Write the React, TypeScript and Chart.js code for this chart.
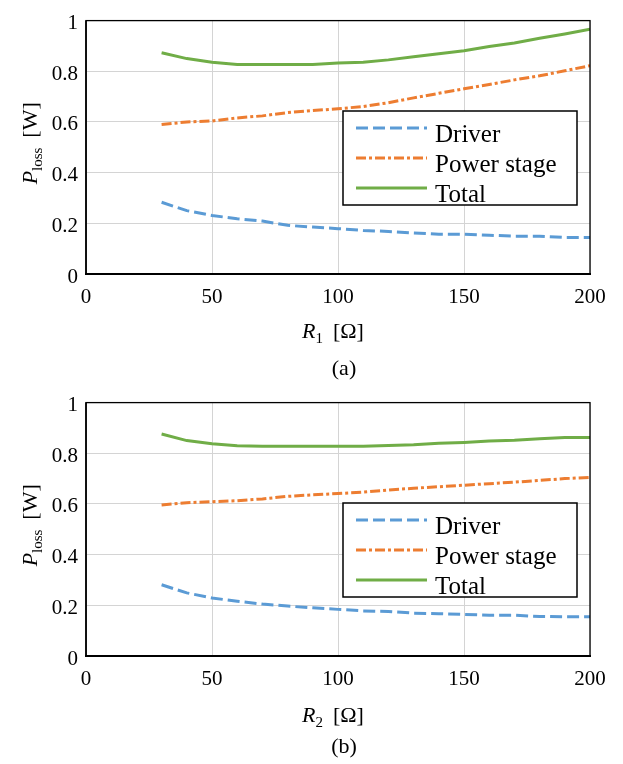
import React, { useEffect, useRef } from "react";
import { Chart, registerables } from "chart.js";
Chart.register(...registerables);

// Resistance values [Ω]
const R = [30, 40, 50, 60, 70, 80, 90, 100, 110, 120, 130, 140, 150, 160, 170, 180, 190, 200];

// (a) sweep of R1
const driverA = [0.283, 0.25, 0.231, 0.218, 0.209, 0.192, 0.185, 0.179, 0.172, 0.168, 0.162, 0.157, 0.157, 0.153, 0.149, 0.149, 0.144, 0.144];
const powerA = [0.59, 0.6, 0.604, 0.616, 0.624, 0.637, 0.645, 0.652, 0.661, 0.676, 0.695, 0.713, 0.731, 0.748, 0.766, 0.782, 0.802, 0.822];
const totalA = [0.873, 0.85, 0.836, 0.827, 0.827, 0.827, 0.827, 0.833, 0.836, 0.845, 0.857, 0.869, 0.881, 0.898, 0.912, 0.93, 0.947, 0.966];

// (b) sweep of R2
const driverB = [0.281, 0.249, 0.229, 0.216, 0.205, 0.197, 0.19, 0.184, 0.178, 0.176, 0.169, 0.167, 0.164, 0.161, 0.161, 0.156, 0.155, 0.155];
const powerB = [0.596, 0.605, 0.609, 0.613, 0.62, 0.63, 0.636, 0.641, 0.647, 0.655, 0.662, 0.668, 0.674, 0.68, 0.686, 0.693, 0.7, 0.705];
const totalB = [0.876, 0.85, 0.838, 0.83, 0.828, 0.828, 0.828, 0.828, 0.828, 0.831, 0.834, 0.84, 0.843, 0.848, 0.851, 0.857, 0.862, 0.862];

const seriesLabels = ["Driver", "Power stage", "Total"];
const xTicks = [0, 50, 100, 150, 200];
const yTicks = [0, 0.2, 0.4, 0.6, 0.8, 1];

const FONT = "'Liberation Serif', 'Times New Roman', serif";
const COLORS = ["#5B9BD5", "#ED7D31", "#70AD47"];
const DASHES = [[12, 5], [10, 3, 3, 3], []];

type Seg = { t: string; italic?: boolean; sub?: boolean };

function drawRich(ctx: CanvasRenderingContext2D, segs: Seg[], cx: number, y: number, size: number) {
  const fontOf = (s: Seg) => `${s.italic ? "italic " : ""}${s.sub ? Math.round(size * 0.7) : size}px ${FONT}`;
  let total = 0;
  const widths = segs.map((s) => {
    ctx.font = fontOf(s);
    const w = ctx.measureText(s.t).width;
    total += w;
    return w;
  });
  let x = cx - total / 2;
  ctx.textAlign = "left";
  ctx.textBaseline = "alphabetic";
  segs.forEach((s, i) => {
    ctx.font = fontOf(s);
    ctx.fillText(s.t, x, y + (s.sub ? size * 0.22 : 0));
    x += widths[i];
  });
}

type PanelProps = {
  driver: number[];
  power: number[];
  total: number[];
  sub: string;
  caption: string;
  padTop: number;
  legendTop: number;
  titleOffset: number;
  captionOffset: number;
};

function Panel(props: PanelProps) {
  const ref = useRef<HTMLCanvasElement | null>(null);
  useEffect(() => {
    const canvas = ref.current;
    if (!canvas) return;
    const decor = {
      id: "decor",
      afterDraw(chart: any) {
        const ctx: CanvasRenderingContext2D = chart.ctx;
        const a = chart.chartArea;
        ctx.save();
        // frame
        ctx.strokeStyle = "#000";
        ctx.lineWidth = 1.3;
        ctx.strokeRect(a.left, a.top, a.right - a.left, a.bottom - a.top);
        ctx.lineWidth = 2;
        ctx.beginPath();
        ctx.moveTo(a.left - 1, a.bottom);
        ctx.lineTo(a.right + 1, a.bottom);
        ctx.stroke();
        ctx.lineWidth = 1.6;
        ctx.beginPath();
        ctx.moveTo(a.left, a.top);
        ctx.lineTo(a.left, a.bottom);
        ctx.stroke();

        // legend
        const lx = 343, ly = props.legendTop, lw = 234, lh = 94;
        ctx.fillStyle = "#fff";
        ctx.fillRect(lx, ly, lw, lh);
        ctx.strokeStyle = "#000";
        ctx.lineWidth = 1.5;
        ctx.strokeRect(lx, ly, lw, lh);
        chart.data.datasets.forEach((ds: any, i: number) => {
          const yy = ly + 17 + i * 30;
          ctx.strokeStyle = ds.borderColor;
          ctx.lineWidth = 3;
          ctx.setLineDash(ds.borderDash || []);
          ctx.beginPath();
          ctx.moveTo(lx + 13, yy);
          ctx.lineTo(lx + 84, yy);
          ctx.stroke();
          ctx.setLineDash([]);
          ctx.fillStyle = "#000";
          ctx.font = `25px ${FONT}`;
          ctx.textAlign = "left";
          ctx.textBaseline = "alphabetic";
          ctx.fillText(ds.label, lx + 92, yy + 14);
        });

        // x title and caption
        ctx.fillStyle = "#000";
        drawRich(ctx, [{ t: "R", italic: true }, { t: props.sub, sub: true }, { t: "\u2009 [\u03A9]" }], 333, a.bottom + props.titleOffset, 22);
        drawRich(ctx, [{ t: props.caption }], 344, a.bottom + props.captionOffset, 22);

        // y title
        ctx.save();
        ctx.translate(37, (a.top + a.bottom) / 2 - 4);
        ctx.rotate(-Math.PI / 2);
        drawRich(ctx, [{ t: "P", italic: true }, { t: "loss", sub: true }, { t: "\u2009 [W]" }], 0, 0, 22);
        ctx.restore();
        ctx.restore();
      },
    };
    const mk = (label: string, data: number[], i: number) => ({
      label,
      data: data.map((v, k) => ({ x: R[k], y: v })),
      borderColor: COLORS[i],
      backgroundColor: COLORS[i],
      borderDash: DASHES[i],
      borderWidth: 3,
      pointRadius: 0,
      tension: 0,
      fill: false,
    });
    const fmt = (v: any) => String(Math.round(Number(v) * 10) / 10);
    const chart = new Chart(canvas, {
      type: "line",
      data: {
        datasets: [
          mk(seriesLabels[0], props.driver, 0),
          mk(seriesLabels[1], props.power, 1),
          mk(seriesLabels[2], props.total, 2),
        ],
      },
      options: {
        animation: false,
        responsive: false,
        maintainAspectRatio: false,
        layout: { padding: { top: props.padTop, right: 33, left: 0, bottom: 0 } },
        plugins: { legend: { display: false }, tooltip: { enabled: false } },
        scales: {
          x: {
            type: "linear",
            min: xTicks[0],
            max: xTicks[xTicks.length - 1],
            afterBuildTicks: (s: any) => {
              s.ticks = xTicks.map((v) => ({ value: v }));
            },
            ticks: { color: "#000", font: { family: FONT, size: 21 }, padding: 11, maxRotation: 0, autoSkip: false, callback: fmt },
            grid: { color: "#d4d4d4", lineWidth: 1, drawTicks: false },
            border: { display: false },
            afterFit: (s: any) => {
              s.height = 108;
            },
          },
          y: {
            type: "linear",
            min: yTicks[0],
            max: yTicks[yTicks.length - 1],
            afterBuildTicks: (s: any) => {
              s.ticks = yTicks.map((v) => ({ value: v }));
            },
            ticks: { color: "#000", font: { family: FONT, size: 21 }, padding: 8, autoSkip: false, labelOffset: 3, callback: fmt },
            grid: { color: "#d4d4d4", lineWidth: 1, drawTicks: false },
            border: { display: false },
            afterFit: (s: any) => {
              s.width = 86;
            },
          },
        },
      },
      plugins: [decor],
    } as any);
    return () => chart.destroy();
  }, []);
  return <canvas ref={ref} width={623} height={382} style={{ display: "block", width: 623, height: 382 }} />;
}

export default function App() {
  return (
    <div style={{ position: "absolute", left: 0, top: 0, width: 623, height: 764, background: "#fff" }}>
      <Panel driver={driverA} power={powerA} total={totalA} sub="1" caption="(a)" padTop={17} legendTop={111} titleOffset={64} captionOffset={101} />
      <Panel driver={driverB} power={powerB} total={totalB} sub="2" caption="(b)" padTop={19} legendTop={121} titleOffset={66} captionOffset={97} />
    </div>
  );
}
